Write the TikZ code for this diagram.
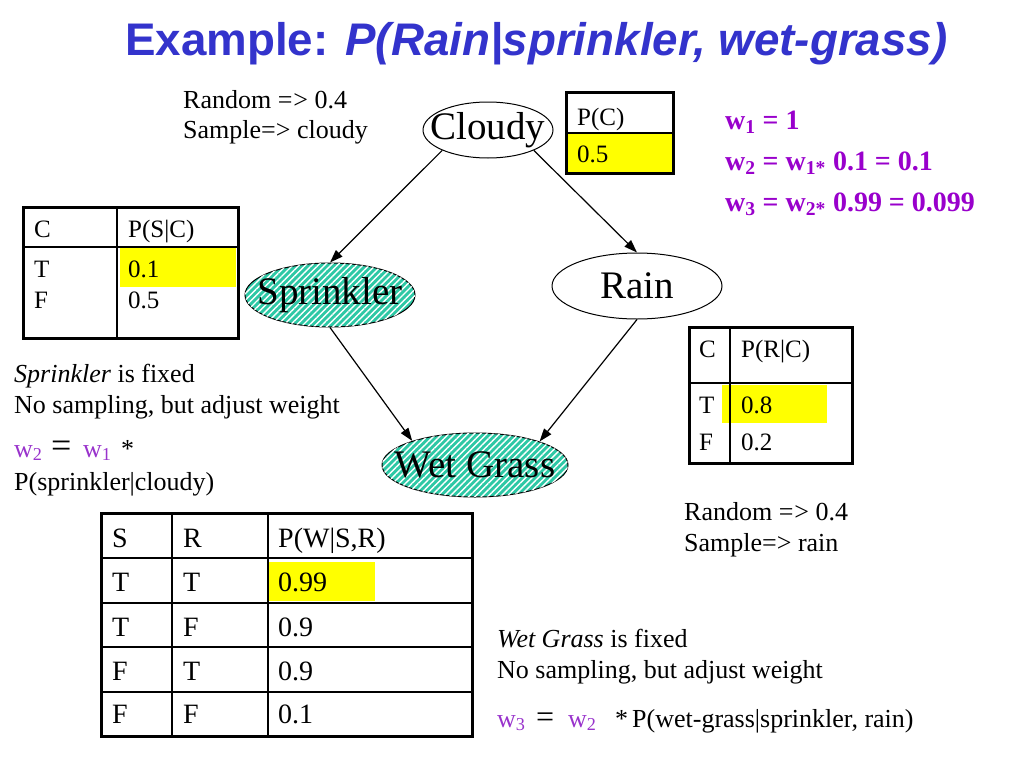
\documentclass[tikz,border=0pt]{standalone}
\usepackage{fontspec}
\setmainfont{Liberation Serif}
\newfontfamily\titlefont{Liberation Sans}
\usetikzlibrary{shapes.geometric,arrows.meta,patterns.meta}
\definecolor{titleblue}{RGB}{51,51,204}
\definecolor{wbold}{RGB}{153,0,204}
\definecolor{wlight}{RGB}{153,51,204}
\definecolor{hatchteal}{RGB}{45,200,165}
\definecolor{cellyellow}{RGB}{255,255,0}
\begin{document}
\begin{tikzpicture}[x=1pt,y=-1pt,
  txt/.style={anchor=base west,inner sep=0pt,font=\fontsize{26}{31}\selectfont},
  tab/.style={anchor=base west,inner sep=0pt,font=\fontsize{25}{30}\selectfont},
  bigtab/.style={anchor=base west,inner sep=0pt,font=\fontsize{28}{33}\selectfont},
  wtxt/.style={anchor=base west,inner sep=0pt,font=\bfseries\fontsize{28}{33}\selectfont,text=wbold},
  bigeq/.style={anchor=base west,inner sep=0pt,font=\fontsize{#1}{#1}\selectfont},
  net/.style={ellipse,draw,line width=1pt,inner sep=0pt},
  netlabel/.style={font=\fontsize{39}{44}\selectfont,inner sep=0pt},
  hatched/.style={fill=hatchteal,postaction={pattern={Lines[angle=45,distance=4.5pt,line width=1.4pt]},pattern color=white}},
  arr/.style={-{Triangle[length=13pt,width=9pt]},line width=1.2pt},
  outerline/.style={line width=3pt},
  innerline/.style={line width=1.2pt},
]
\useasboundingbox[fill=white] (0,0) rectangle (1024,768);

% title
\node[anchor=base west,inner sep=0pt,text=titleblue,font=\titlefont\bfseries\fontsize{45.7}{54}\selectfont] (title) at (125,56) {Example: \textit{P(Rain|sprinkler, wet-grass)}};

% network
\node[net,minimum width=130pt,minimum height=56pt,label={[netlabel]center:Cloudy}] (cloudy) at (488,130) {};
\node[net,hatched,minimum width=170pt,minimum height=64pt,label={[netlabel]center:Sprinkler}] (sprinkler) at (330,295) {};
\node[net,minimum width=170pt,minimum height=66pt,label={[netlabel]center:Rain}] (rain) at (637,286) {};
\node[net,hatched,minimum width=186pt,minimum height=64pt,label={[netlabel]center:Wet Grass}] (wet) at (475,465) {};

\draw[arr] (cloudy.204) -- (sprinkler.north);
\draw[arr] (cloudy.336) -- (rain.north);
\draw[arr] (sprinkler.south) -- (wet.159);
\draw[arr] (rain.south) -- (wet.20);

% P(C) table
\fill[cellyellow] (566,133) rectangle (673,173);
\draw[innerline] (566,133) -- (673,133);
\draw[outerline] (566,92) rectangle (673,173);
\node[tab] (pch) at (577,125) {P(C)};
\node[tab] (pcv) at (577,162) {0.5};

% P(S|C) table
\fill[cellyellow] (120,248) rectangle (236,287);
\draw[innerline] (23,247) -- (238,247);
\draw[innerline] (117,207) -- (117,338);
\draw[outerline] (23,207) rectangle (238,338);
\node[tab] (sc1) at (34,237) {C};
\node[tab] (sc2) at (128,237) {P(S|C)};
\node[tab] (sc3) at (34,277) {T};
\node[tab] (sc4) at (128,277) {0.1};
\node[tab] (sc5) at (34,308) {F};
\node[tab] (sc6) at (128,308) {0.5};

% P(R|C) table
\fill[cellyellow] (722,385) rectangle (827,423);
\draw[innerline] (689,383) -- (852,383);
\draw[innerline] (730,327) -- (730,463);
\draw[outerline] (689,327) rectangle (852,463);
\node[tab] (rc1) at (699,357) {C};
\node[tab] (rc2) at (741,357) {P(R|C)};
\node[tab] (rc3) at (699,413) {T};
\node[tab] (rc4) at (741,413) {0.8};
\node[tab] (rc5) at (699,450) {F};
\node[tab] (rc6) at (741,450) {0.2};

% P(W|S,R) table
\fill[cellyellow] (269,562) rectangle (375,601);
\foreach \yy in {558,603,647,692} \draw[innerline] (101,\yy) -- (472,\yy);
\foreach \xx in {172,268} \draw[innerline] (\xx,513) -- (\xx,736);
\draw[outerline] (101,513) rectangle (472,736);
\node[bigtab] (w11) at (112,547) {S};
\node[bigtab] (w12) at (183,547) {R};
\node[bigtab] (w13) at (278,547) {P(W|S,R)};
\node[bigtab] (w21) at (112,591) {T};
\node[bigtab] (w22) at (183,591) {T};
\node[bigtab] (w23) at (278,591) {0.99};
\node[bigtab] (w31) at (112,636) {T};
\node[bigtab] (w32) at (183,636) {F};
\node[bigtab] (w33) at (278,636) {0.9};
\node[bigtab] (w41) at (112,680) {F};
\node[bigtab] (w42) at (183,680) {T};
\node[bigtab] (w43) at (278,680) {0.9};
\node[bigtab] (w51) at (112,723) {F};
\node[bigtab] (w52) at (183,723) {F};
\node[bigtab] (w53) at (278,723) {0.1};

% annotations
\node[txt] (ra1) at (183,108) {Random =\kern1pt> 0.4};
\node[txt] (ra2) at (183,138) {Sample=> cloudy};
\node[txt] (rb1) at (684,520) {Random =\kern1pt> 0.4};
\node[txt] (rb2) at (684,551) {Sample=> rain};

\node[wtxt] (wr1) at (725,129) {w\textsubscript{1} = 1};
\node[wtxt] (wr2) at (725,170) {w\textsubscript{2} = w\textsubscript{1*} 0.1 = 0.1};
\node[wtxt] (wr3) at (725,211) {w\textsubscript{3} = w\textsubscript{2*} 0.99 = 0.099};

\node[txt] (sf1) at (14,382) {\textit{Sprinkler} is fixed};
\node[txt] (sf2) at (14,413) {No sampling, but adjust weight};
\node[txt,text=wlight] (sf3) at (14,457) {w\textsubscript{2}};
\node[bigeq=36] (sf4) at (51,457) {=};
\node[txt,text=wlight] (sf5) at (83,457) {w\textsubscript{1}};
\node[txt] (sf6) at (121,457) {*};
\node[txt] (sf7) at (14,490) {P(sprinkler|cloudy)};

\node[txt] (wf1) at (497,647) {\textit{Wet Grass} is fixed};
\node[txt] (wf2) at (497,678) {No sampling, but adjust weight};
\node[txt,text=wlight] (wf3) at (497,727) {w\textsubscript{3}};
\node[bigeq=32] (wf4) at (536,727) {=};
\node[txt,text=wlight] (wf5) at (568,727) {w\textsubscript{2}};
\node[txt] (wf6) at (615,727) {*};
\node[txt] (wf7) at (632,727) {P(wet-grass|sprinkler, rain)};
\end{tikzpicture}
\end{document}
